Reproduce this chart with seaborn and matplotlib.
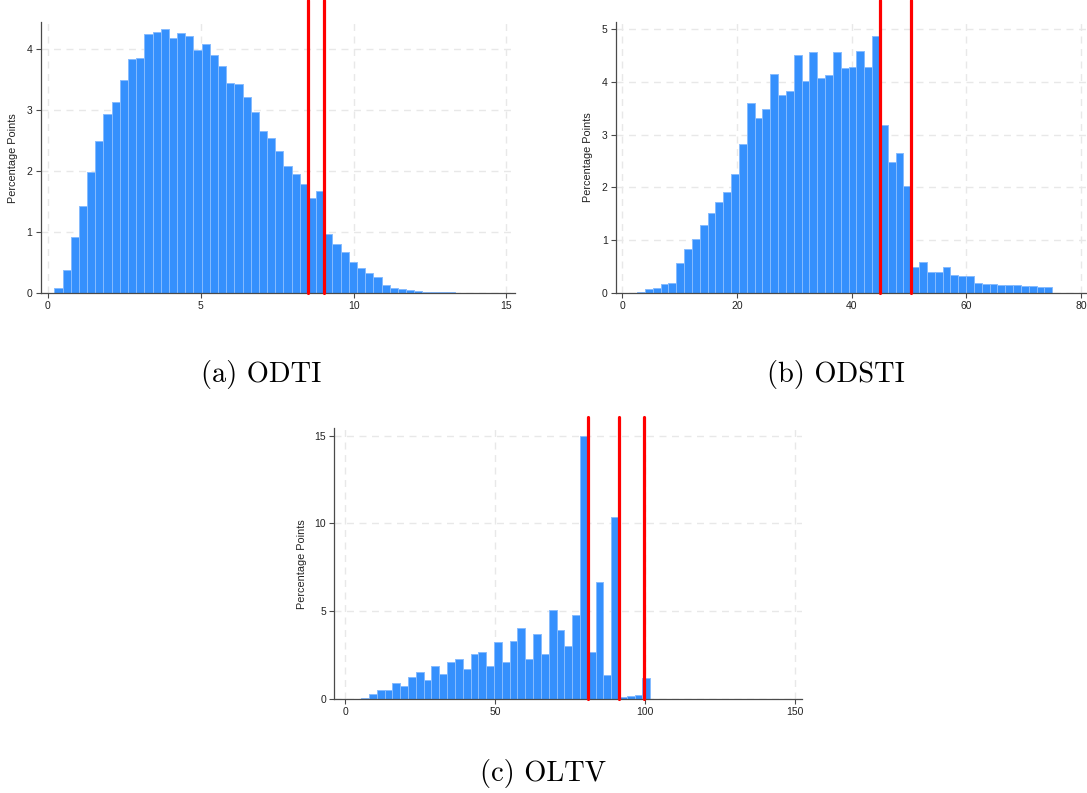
import numpy as np
import pandas as pd
import matplotlib
matplotlib.use('Agg')
import matplotlib.pyplot as plt
import seaborn as sns

# bin heights (percentage points), 54 bins per panel
odti_pct = [0.09, 0.39, 0.93, 1.43, 1.99, 2.50, 2.94, 3.14, 3.50, 3.84,
            3.85, 4.25, 4.28, 4.34, 4.18, 4.27, 4.22, 3.99, 4.08, 3.90,
            3.72, 3.44, 3.43, 3.22, 2.97, 2.66, 2.54, 2.33, 2.09, 1.95,
            1.79, 1.57, 1.68, 0.98, 0.81, 0.68, 0.52, 0.41, 0.33, 0.27,
            0.13, 0.09, 0.07, 0.05, 0.03, 0.02, 0.02, 0.02, 0.02, 0.01,
            0.01, 0.01, 0.01, 0.01]
odsti_pct = [0.01, 0.03, 0.09, 0.10, 0.18, 0.19, 0.57, 0.84, 1.03, 1.30,
             1.51, 1.73, 1.91, 2.25, 2.82, 3.59, 3.31, 3.49, 4.14, 3.75,
             3.83, 4.50, 4.02, 4.56, 4.07, 4.12, 4.57, 4.26, 4.27, 4.58,
             4.28, 4.86, 3.19, 2.49, 2.66, 2.03, 0.49, 0.59, 0.41, 0.40,
             0.49, 0.35, 0.33, 0.32, 0.19, 0.18, 0.18, 0.16, 0.16, 0.15,
             0.14, 0.14, 0.12, 0.12]
oltv_pct = [0.01, 0.02, 0.09, 0.28, 0.51, 0.51, 0.95, 0.78, 1.29, 1.57,
            1.12, 1.91, 1.46, 2.14, 2.29, 1.70, 2.58, 2.67, 1.91, 3.26,
            2.10, 3.30, 4.03, 2.27, 3.73, 2.58, 5.06, 3.92, 3.03, 4.77,
            15.0, 2.71, 6.67, 1.38, 10.38, 0.15, 0.19, 0.27, 1.19, 0.04,
            0.03, 0.03, 0.02, 0.02, 0.02, 0.01, 0.01, 0.01, 0.01, 0.01,
            0.01, 0.01, 0.01, 0.01]

# bin layout: (first edge, bin width)
odti_bins = (0.21, 0.2676)
odsti_bins = (1.22, 1.366)
oltv_bins = (0.17, 2.605)

odti_lines = [8.51, 9.04]
odsti_lines = [44.95, 50.4]
oltv_lines = [80.9, 91.4, 99.8]

odti_ticks = [0, 5, 10, 15]
odsti_ticks = [0, 20, 40, 60, 80]
oltv_ticks = [0, 50, 100, 150]

sns.set_style('white')
plt.rcParams['font.family'] = ['Liberation Sans', 'DejaVu Sans']

W, H = 1087, 793
fig = plt.figure(figsize=(W / 100, H / 100), dpi=100)


def panel(box, pct, bins, lines, xticks, yticks, xlim, ylim, line_top, label_x):
    left, top, right, bottom = box
    ax = fig.add_axes([left / W, 1 - bottom / H, (right - left) / W, (bottom - top) / H])
    start, width = bins
    edges = start + width * np.arange(len(pct) + 1)
    df = pd.DataFrame({'x': (edges[:-1] + edges[1:]) / 2, 'w': pct})
    sns.histplot(data=df, x='x', weights='w', bins=list(edges), ax=ax,
                 color='#3590fd', alpha=1, edgecolor='#86bbff', linewidth=0.7)
    for v in lines:
        ax.axvline(v, ymin=0, ymax=line_top, color='#ff0000', lw=2.3,
                   clip_on=False, zorder=5)
    ax.set_xlim(*xlim)
    ax.set_ylim(*ylim)
    ax.set_xticks(xticks)
    ax.set_yticks(yticks)
    ax.set_axisbelow(True)
    ax.grid(True, ls=(0, (5, 4)), color='#e8e8e8', lw=1)
    for s in ['top', 'right']:
        ax.spines[s].set_visible(False)
    for s in ['left', 'bottom']:
        ax.spines[s].set_color('#4a4a4a')
        ax.spines[s].set_linewidth(0.9)
    ax.tick_params(axis='both', direction='out', length=3.6, width=0.8,
                   color='#4a4a4a', labelsize=7.5, labelcolor='#222222', pad=2.2,
                   left=True, bottom=True)
    ax.set_xlabel('')
    ax.set_ylabel('Percentage Points', fontsize=7.8, color='#222222')
    ax.yaxis.set_label_coords(label_x, 0.5)
    return ax


panel((40.5, 22, 515, 293.3), odti_pct, odti_bins, odti_lines, odti_ticks,
      [0, 1, 2, 3, 4], (-0.245, 15.28), (0, 4.447), 1.081, -0.047)
panel((615.7, 21.7, 1086, 293.3), odsti_pct, odsti_bins, odsti_lines, odsti_ticks,
      [0, 1, 2, 3, 4, 5], (-1.151, 80.87), (0, 5.134), 1.081, -0.048)
panel((334.3, 428.3, 801.7, 699.3), oltv_pct, oltv_bins, oltv_lines, oltv_ticks,
      [0, 5, 10, 15], (-3.57, 152.23), (0, 15.41), 1.043, -0.059)

cap = dict(fontfamily='cmr10', fontsize=20.5, ha='center', va='baseline', color='black')
fig.text(260.8 / W, 1 - 382.2 / H, '(a) ODTI', **cap)
fig.text(836 / W, 1 - 382.2 / H, '(b) ODSTI', **cap)
fig.text(543.3 / W, 1 - 780.7 / H, '(c) OLTV', **cap)

fig.savefig('out.png', dpi=100)
